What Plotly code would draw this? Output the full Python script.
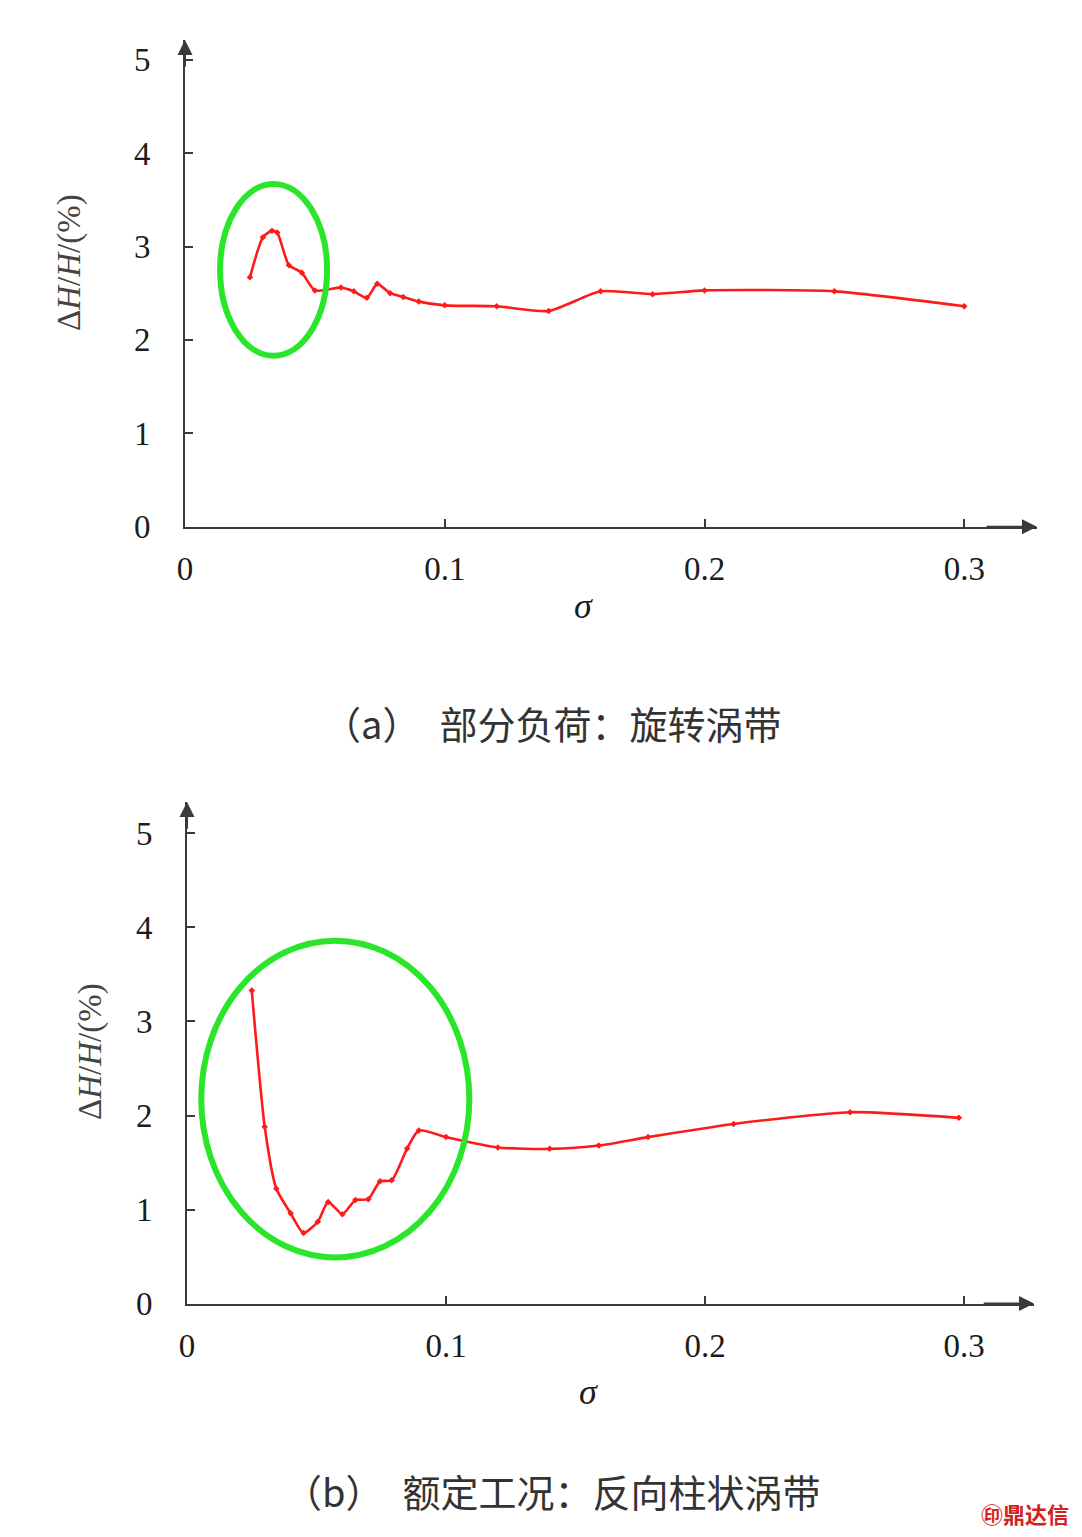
import plotly.graph_objects as go

# ---------------- data ----------------
sigma_a = [0.025, 0.030, 0.0335, 0.0355, 0.040, 0.045, 0.050, 0.060, 0.065, 0.070,
           0.074, 0.079, 0.084, 0.090, 0.100, 0.120, 0.140, 0.160, 0.180, 0.200,
           0.250, 0.300]
dh_a = [2.67, 3.10, 3.17, 3.15, 2.80, 2.72, 2.53, 2.56, 2.52, 2.45,
        2.60, 2.50, 2.46, 2.41, 2.37, 2.36, 2.31, 2.52, 2.49, 2.53,
        2.52, 2.36]

sigma_b = [0.025, 0.030, 0.0345, 0.040, 0.045, 0.0505, 0.0545, 0.060, 0.065, 0.070,
           0.0745, 0.079, 0.085, 0.0895, 0.100, 0.120, 0.140, 0.159, 0.178, 0.211,
           0.256, 0.298]
dh_b = [3.33, 1.88, 1.22, 0.96, 0.75, 0.87, 1.08, 0.95, 1.10, 1.11,
        1.30, 1.31, 1.65, 1.84, 1.77, 1.66, 1.645, 1.68, 1.77, 1.91,
        2.035, 1.975]

x_ticks = [0, 0.1, 0.2, 0.3]
x_ticklabels = ["0", "0.1", "0.2", "0.3"]
y_ticks = [0, 1, 2, 3, 4, 5]

caption_a = "（a）　部分负荷：旋转涡带"
caption_b = "（b）　额定工况：反向柱状涡带"
y_title = "Δ<i>H</i>/<i>H</i>/(%)"
x_title = "<i>σ</i>"

# highlighted regions (ellipses) in data coordinates
ell_a = dict(x0=0.0135, x1=0.0547, y0=1.83, y1=3.67)
ell_b = dict(x0=0.0055, x1=0.109, y0=0.49, y1=3.86)

# ---------------- figure ----------------
W, H = 1082, 1537
OFF = 8  # page body margin
RED = "#ff1a1a"
GREEN = "#2ae62a"
AXC = "#3a3a3a"
TXT = "#1c1c1c"
TICKFONT = dict(family="Liberation Serif", size=33, color=TXT)

fig = go.Figure()
for xs, ys, xa, ya in [(sigma_a, dh_a, "x", "y"), (sigma_b, dh_b, "x2", "y2")]:
    fig.add_trace(go.Scatter(x=xs, y=ys, mode="lines+markers",
                             line=dict(color=RED, width=2.6, shape="spline", smoothing=0.6),
                             marker=dict(color=RED, size=5, symbol="diamond"),
                             xaxis=xa, yaxis=ya, showlegend=False))

def px2paper_x(px):
    return (px - OFF) / W

def px2paper_y(py):
    return 1 - (py - OFF) / H

# panel geometry (screen pixels)
A = dict(xl=185, xr=1037, yt=40, yb=526.7, xmax=0.328, ymax=5.211)
B = dict(xl=187, xr=1034, yt=802, yb=1303.5, xmax=0.327, ymax=5.335)

axis_common = dict(showline=True, linecolor=AXC, linewidth=2, showgrid=False,
                   zeroline=False, ticks="inside", tickcolor=AXC, tickwidth=2,
                   ticklen=8, tickfont=TICKFONT, automargin=False)

fig.update_layout(
    template="none",
    width=W, height=H,
    margin=dict(l=0, r=0, t=0, b=0, pad=0),
    paper_bgcolor="white", plot_bgcolor="white",
    xaxis=dict(domain=[px2paper_x(A["xl"]), px2paper_x(A["xr"])], range=[0, A["xmax"]],
               anchor="y", tickvals=x_ticks, ticktext=x_ticklabels,
               ticklabelstandoff=12, **axis_common),
    yaxis=dict(domain=[px2paper_y(A["yb"]), px2paper_y(A["yt"])], range=[0, A["ymax"]],
               anchor="x", tickvals=y_ticks, ticklabelstandoff=26, **axis_common),
    xaxis2=dict(domain=[px2paper_x(B["xl"]), px2paper_x(B["xr"])], range=[0, B["xmax"]],
                anchor="y2", tickvals=x_ticks, ticktext=x_ticklabels,
                ticklabelstandoff=12, **axis_common),
    yaxis2=dict(domain=[px2paper_y(B["yb"]), px2paper_y(B["yt"])], range=[0, B["ymax"]],
                anchor="x2", tickvals=y_ticks, ticklabelstandoff=26, **axis_common),
)

# ellipses
fig.add_shape(type="circle", xref="x", yref="y", line=dict(color=GREEN, width=6), **ell_a)
fig.add_shape(type="circle", xref="x2", yref="y2", line=dict(color=GREEN, width=6), **ell_b)

ann = []
# axis arrows
for xr, yr, xm, ym in [("x", "y", A["xmax"], A["ymax"]), ("x2", "y2", B["xmax"], B["ymax"])]:
    ann.append(dict(x=xm, y=0, ax=xm - 0.02, ay=0, xref=xr, yref=yr, axref=xr, ayref=yr,
                    showarrow=True, arrowhead=2, arrowsize=1.5, arrowwidth=2,
                    arrowcolor=AXC, text=""))
    ann.append(dict(x=0, y=ym, ax=0, ay=ym - 0.3, xref=xr, yref=yr, axref=xr, ayref=yr,
                    showarrow=True, arrowhead=2, arrowsize=1.5, arrowwidth=2,
                    arrowcolor=AXC, text=""))

# axis titles
for cx, cy in [(583, 606), (588, 1392)]:
    ann.append(dict(x=px2paper_x(cx), y=px2paper_y(cy), xref="paper", yref="paper",
                    xanchor="center", yanchor="middle",
                    text=x_title, showarrow=False,
                    font=dict(family="Liberation Serif", size=36, color=TXT)))
for cx, cy in [(70, 262), (90, 1052)]:
    ann.append(dict(x=px2paper_x(cx), y=px2paper_y(cy), xref="paper", yref="paper",
                    xanchor="center", yanchor="middle",
                    text=y_title, showarrow=False, textangle=-90,
                    font=dict(family="Liberation Serif", size=33, color="#444444")))

# captions
ann.append(dict(x=px2paper_x(552), y=px2paper_y(722), xref="paper", yref="paper",
                xanchor="center", yanchor="middle",
                text=caption_a, showarrow=False,
                font=dict(family="Noto Sans CJK SC", size=38, color="#333333")))
ann.append(dict(x=px2paper_x(552), y=px2paper_y(1490), xref="paper", yref="paper",
                xanchor="center", yanchor="middle",
                text=caption_b, showarrow=False,
                font=dict(family="Noto Sans CJK SC", size=38, color="#333333")))

# watermark
ann.append(dict(x=px2paper_x(1025), y=px2paper_y(1513), xref="paper", yref="paper",
                xanchor="center", yanchor="middle",
                text="<b>㊞鼎达信</b>", showarrow=False,
                font=dict(family="Noto Sans CJK SC", size=22, color="#d42020")))

fig.update_layout(annotations=ann)
fig.write_html("out.html")
